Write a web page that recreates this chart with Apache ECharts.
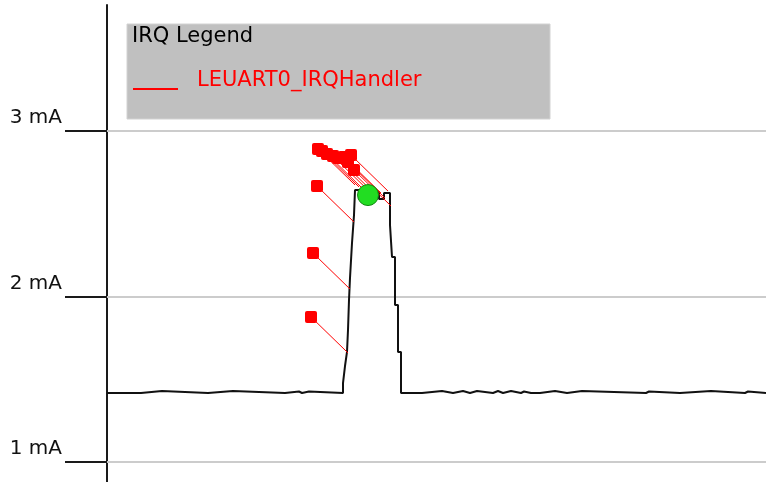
<!DOCTYPE html>
<html>
<head>
<meta charset="utf-8">
<script src="https://cdn.jsdelivr.net/npm/echarts@6/dist/echarts.min.js"></script>
<style>html,body{margin:0;padding:0;background:#fff}#chart{width:766px;height:482px}</style>
</head>
<body>
<div id="chart"></div>
<script>
// ---- data ----
const seriesName = 'LEUART0_IRQHandler';
const legendTitle = 'IRQ Legend';
// current trace (step, value holds from each time until the next)
const timeMs = [0, 3.4, 5.5, 10.1, 12.6, 17.8, 19.2, 19.5, 20.2,
  23.6, 23.8, 24.0, 24.1, 24.2, 24.3, 24.5, 24.7, 24.8, 25.5, 26.9, 27.2, 27.7,
  28.3, 28.5, 28.8, 29.1, 29.4, 29.8, 30.0, 30.4, 30.6, 31.5, 33.5, 34.6, 35.6,
  36.3, 37.0, 38.6, 39.1, 39.6, 40.4, 41.4, 41.7, 42.4, 42.6, 43.3, 44.8, 46.0,
  47.5, 53.9, 54.2, 57.3, 60.4, 63.8, 64.1, 65.9];
const currentMA = [1.417, 1.429, 1.417, 1.429, 1.417, 1.426, 1.417, 1.426, 1.417,
  1.477, 1.580, 1.665, 1.798, 1.979, 2.112, 2.323, 2.492, 2.644, 2.637, 2.631, 2.589, 2.625,
  2.432, 2.239, 1.949, 1.665, 1.417, 1.426, 1.417, 1.426, 1.417, 1.429, 1.417, 1.429, 1.417,
  1.429, 1.417, 1.429, 1.417, 1.429, 1.417, 1.426, 1.417, 1.426, 1.417, 1.429, 1.417, 1.429,
  1.417, 1.426, 1.417, 1.429, 1.417, 1.426, 1.417, 1.417];
// IRQ events (points on the trace)
const eventTimeMs = [24.1, 24.3, 24.7, 24.8, 25.2, 25.7, 26.3, 26.8, 27.4, 28.1, 27.8, 28.4];
const eventCurrentMA = [1.659, 2.045, 2.450, 2.674, 2.662, 2.644, 2.631, 2.619, 2.625, 2.637, 2.595, 2.547];
// cursor marker
const cursorTimeMs = [26.1];
const cursorCurrentMA = [2.613];
// axis ticks
const tickValues = [1, 2, 3];
const tickLabels = ['1 mA', '2 mA', '3 mA'];

const chart = echarts.init(document.getElementById('chart'), null, {renderer: 'canvas'});
const font = 'DejaVu Sans';

const option = {
  animation: false,
  backgroundColor: '#ffffff',
  grid: {left: 107, right: 0, top: 5, bottom: 0, containLabel: false},
  xAxis: {
    type: 'value', min: 0, max: 65.9, show: false
  },
  yAxis: {
    type: 'value', min: 0.8792, max: 3.7613,
    axisLine: {show: true, onZero: false, lineStyle: {color: '#1a1a1a', width: 2}},
    axisTick: {show: true, inside: false, length: 42, customValues: tickValues,
      lineStyle: {color: '#1a1a1a', width: 2}},
    axisLabel: {
      show: true, customValues: tickValues, margin: 45,
      formatter: function (v) { const i = tickValues.indexOf(Math.round(v)); return i >= 0 ? tickLabels[i] : ''; },
      fontFamily: font, fontSize: 20, color: '#111',
      verticalAlign: 'bottom', lineHeight: 26
    },
    splitLine: {show: false}
  },
  graphic: [
    {type: 'rect', z: 10, shape: {x: 127, y: 24, width: 423, height: 95},
      style: {fill: '#c0c0c0', stroke: '#d2d2d2', lineWidth: 1}},
    {type: 'text', z: 11, x: 132, y: 37,
      style: {text: legendTitle, font: '21px "DejaVu Sans"', fill: '#000', verticalAlign: 'middle'}},
    {type: 'line', z: 11, shape: {x1: 133, y1: 89, x2: 178, y2: 89},
      style: {stroke: '#ff0000', lineWidth: 2}},
    {type: 'text', z: 11, x: 197, y: 80.5,
      style: {text: seriesName, font: '21px "DejaVu Sans"', fill: '#ff0000', verticalAlign: 'middle'}}
  ],
  series: [
    {
      type: 'line', name: 'current', step: 'end', showSymbol: false, z: 2,
      data: timeMs.map((t, i) => [t, currentMA[i]]),
      lineStyle: {color: '#111', width: 2},
      markLine: {
        silent: true, symbol: ['none', 'none'], label: {show: false}, z: 1,
        lineStyle: {color: '#cccccc', width: 2, type: 'solid'},
        data: tickValues.map(v => ({yAxis: v}))
      }
    },
    {
      type: 'custom', name: seriesName, z: 4,
      data: eventTimeMs.map((t, i) => [t, eventCurrentMA[i]]),
      encode: {x: 0, y: 1},
      renderItem: function (params, api) {
        const p = api.coord([api.value(0), api.value(1)]);
        const ex = p[0] - 37, ey = p[1] - 36;
        return {
          type: 'group',
          children: [
            {type: 'line', shape: {x1: p[0], y1: p[1], x2: ex, y2: ey},
              style: {stroke: '#ff0000', lineWidth: 1}},
            {type: 'rect', shape: {x: ex - 6, y: ey - 6, width: 12, height: 12, r: 2},
              style: {fill: '#ff0000'}}
          ]
        };
      }
    },
    {
      type: 'scatter', name: 'cursor', z: 5, symbol: 'circle', symbolSize: 21,
      data: cursorTimeMs.map((t, i) => [t, cursorCurrentMA[i]]),
      itemStyle: {color: '#22dd22', borderColor: '#118811', borderWidth: 1, opacity: 1}
    }
  ]
};
chart.setOption(option);
</script>
</body>
</html>
